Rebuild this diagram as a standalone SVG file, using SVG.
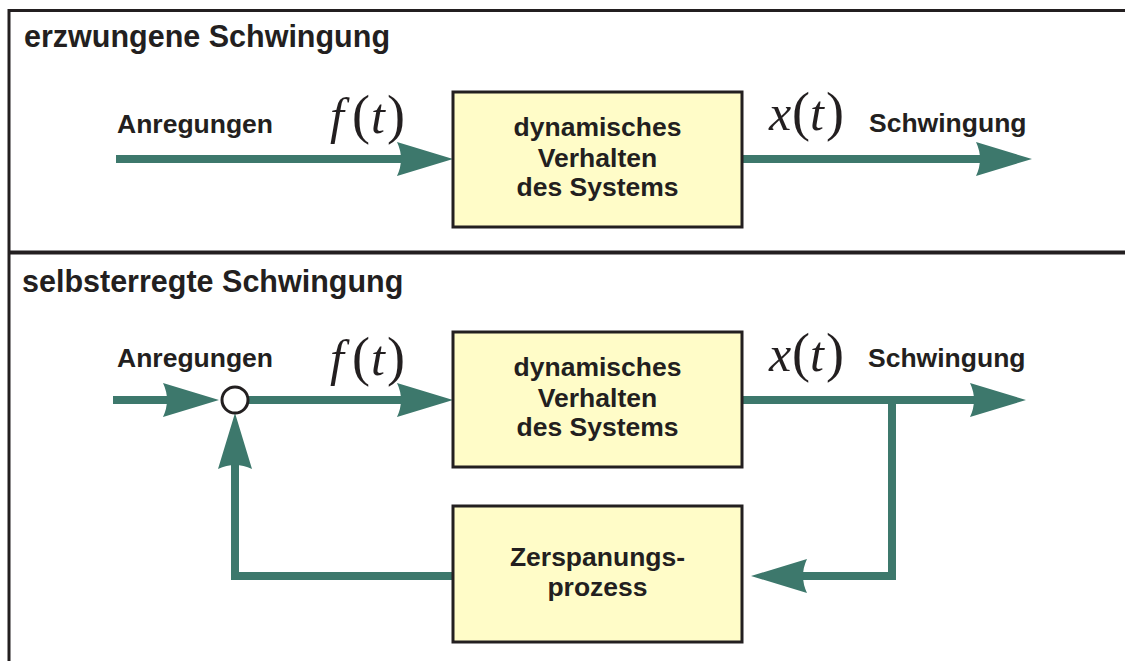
<svg xmlns="http://www.w3.org/2000/svg" xmlns:xlink="http://www.w3.org/1999/xlink" width="1125" height="661" viewBox="0 0 1125 661">
<style>
.frame{stroke:#231F20;fill:none}
.box{fill:#FFFCC8;stroke:#231F20;stroke-width:3}
.lbl{font-family:"Liberation Sans",Arial,sans-serif;font-weight:bold;font-size:26.5px;fill:#231F20}
.title{font-family:"Liberation Sans",Arial,sans-serif;font-weight:bold;font-size:30.5px;fill:#231F20}
.math{font-family:"Liberation Serif","Times New Roman",serif;font-size:50px;fill:#231F20}
.it{font-style:italic}
.par{font-size:54px}
.wire{stroke:#3D786C;stroke-width:8;fill:none;stroke-linejoin:miter;stroke-linecap:butt}
.head{fill:#3D786C}
</style>
<defs>
<path id="ah" d="M0,0 L-56,-17 Q-48,0 -56,17 Z"/>
</defs>
<rect width="1125" height="661" fill="#fff"/>
<g id="frame">
<line class="frame" x1="8" y1="10.5" x2="1125" y2="10.5" stroke-width="3"/>
<line class="frame" x1="9" y1="9" x2="9" y2="661" stroke-width="3"/>
<line class="frame" x1="8" y1="252.5" x2="1125" y2="252.5" stroke-width="4"/>
<text class="title" x="24" y="47">erzwungene Schwingung</text>
<text class="title" x="22" y="292">selbsterregte Schwingung</text>
</g>
<g id="connectors">
<line class="wire" x1="116" y1="159" x2="405" y2="159"/>
<use href="#ah" class="head" transform="translate(453,159)"/>
<line class="wire" x1="742" y1="159" x2="985" y2="159"/>
<use href="#ah" class="head" transform="translate(1032,159)"/>
<line class="wire" x1="113" y1="400" x2="172" y2="400"/>
<use href="#ah" class="head" transform="translate(219,400)"/>
<line class="wire" x1="248" y1="400" x2="405" y2="400"/>
<use href="#ah" class="head" transform="translate(453,400)"/>
<line class="wire" x1="742" y1="400" x2="978" y2="400"/>
<use href="#ah" class="head" transform="translate(1026,400)"/>
<polyline class="wire" points="892,400 892,576 798,576"/>
<use href="#ah" class="head" transform="translate(751,576) rotate(180)"/>
<polyline class="wire" points="453,576 235,576 235,460"/>
<use href="#ah" class="head" transform="translate(235,413) rotate(-90)"/>
</g>
<g id="sum">
<circle cx="235" cy="400" r="13" fill="#fff" stroke="#231F20" stroke-width="3"/>
</g>
<g id="labels">
<text class="lbl" x="117" y="133">Anregungen</text>
<text class="lbl" x="869" y="132">Schwingung</text>
<text class="lbl" x="117" y="367">Anregungen</text>
<text class="lbl" x="868" y="367">Schwingung</text>
<text class="math" y="133"><tspan class="it" x="330">f</tspan><tspan class="par" x="352">(</tspan><tspan class="it" x="371">t</tspan><tspan class="par" x="387">)</tspan></text>
<text class="math" y="130"><tspan class="it" x="769">x</tspan><tspan class="par" x="792">(</tspan><tspan class="it" x="810">t</tspan><tspan class="par" x="826">)</tspan></text>
<text class="math" y="375"><tspan class="it" x="330">f</tspan><tspan class="par" x="352">(</tspan><tspan class="it" x="371">t</tspan><tspan class="par" x="387">)</tspan></text>
<text class="math" y="371"><tspan class="it" x="769">x</tspan><tspan class="par" x="792">(</tspan><tspan class="it" x="810">t</tspan><tspan class="par" x="826">)</tspan></text>
</g>
<g id="node-system-top">
<rect class="box" x="453" y="92" width="289" height="135"/>
<text class="lbl" text-anchor="middle" x="597.5" y="136">dynamisches</text>
<text class="lbl" text-anchor="middle" x="597.5" y="167">Verhalten</text>
<text class="lbl" text-anchor="middle" x="597.5" y="196">des Systems</text>
</g>
<g id="node-system-bottom">
<rect class="box" x="453" y="332" width="289" height="135"/>
<text class="lbl" text-anchor="middle" x="597.5" y="376">dynamisches</text>
<text class="lbl" text-anchor="middle" x="597.5" y="407">Verhalten</text>
<text class="lbl" text-anchor="middle" x="597.5" y="436">des Systems</text>
</g>
<g id="node-zerspanung">
<rect class="box" x="453" y="506" width="289" height="136"/>
<text class="lbl" text-anchor="middle" x="597.5" y="566">Zerspanungs-</text>
<text class="lbl" text-anchor="middle" x="597.5" y="596">prozess</text>
</g>
</svg>
